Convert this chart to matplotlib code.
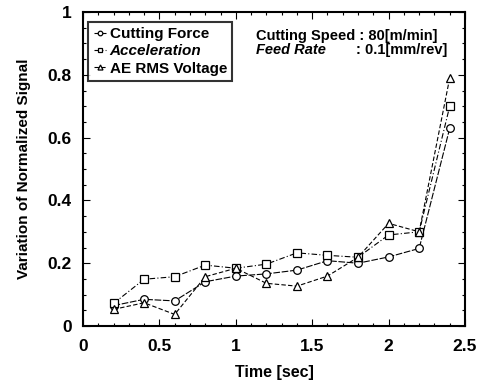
import matplotlib
matplotlib.use("Agg")
import matplotlib.pyplot as plt
from matplotlib.ticker import MultipleLocator

plt.rcParams['font.family'] = ['Liberation Sans', 'DejaVu Sans']

time = [0.2, 0.4, 0.6, 0.8, 1.0, 1.2, 1.4, 1.6, 1.8, 2.0, 2.2, 2.4]
cutting_force = [0.065, 0.085, 0.080, 0.141, 0.159, 0.166, 0.178, 0.208, 0.200, 0.220, 0.247, 0.63]
acceleration = [0.072, 0.149, 0.157, 0.194, 0.184, 0.197, 0.233, 0.225, 0.219, 0.290, 0.300, 0.70]
ae_rms = [0.053, 0.074, 0.037, 0.157, 0.184, 0.136, 0.127, 0.159, 0.219, 0.327, 0.300, 0.79]

fig = plt.figure(figsize=(4.86, 3.91), dpi=100)
ax = fig.add_axes([0.1708, 0.1662, 0.786, 0.8031])

kw = dict(color='black', lw=0.8, mfc='white', mec='black', mew=0.9)
l1, = ax.plot(time, cutting_force, marker='o', ms=5.5, ls=(0, (6, 1.5)), **kw)
l2, = ax.plot(time, acceleration, marker='s', ms=6, ls=(0, (5, 2, 1, 2)), **kw)
l3, = ax.plot(time, ae_rms, marker='^', ms=6, ls=(0, (4, 2)), **kw)

ax.set_xlim(0, 2.5)
ax.set_ylim(0, 1)
ax.xaxis.set_minor_locator(MultipleLocator(0.1))
ax.yaxis.set_minor_locator(MultipleLocator(0.05))
ax.set_xticks([0, 0.5, 1, 1.5, 2, 2.5])
ax.set_xticklabels(['0', '0.5', '1', '1.5', '2', '2.5'])
ax.set_yticks([0, 0.2, 0.4, 0.6, 0.8, 1])
ax.set_yticklabels(['0', '0.2', '0.4', '0.6', '0.8', '1'])
ax.tick_params(which='both', direction='in', top=True, right=True, width=0.8)
ax.tick_params(which='major', length=5, labelsize=12.5)
ax.tick_params(axis='x', which='major', pad=9)
ax.tick_params(axis='y', which='major', pad=8)
ax.tick_params(which='minor', length=2.5)
for lab in ax.get_xticklabels() + ax.get_yticklabels():
    lab.set_fontweight('bold')
for s in ax.spines.values():
    s.set_linewidth(1.5)

ax.set_xlabel('Time [sec]', fontsize=11.5, fontweight='bold', labelpad=8)
ax.set_ylabel('Variation of Normalized Signal', fontsize=11, fontweight='bold', labelpad=12)

leg = ax.legend([l1, l2, l3], ['Cutting Force', 'Acceleration', 'AE RMS Voltage'],
                loc='upper left', bbox_to_anchor=(0.0, 0.985), frameon=True, fancybox=False,
                edgecolor='black', fontsize=11, handlelength=0.8, handletextpad=0.25,
                borderpad=0.35, labelspacing=0.2, markerscale=0.6, borderaxespad=0.35)
leg.get_frame().set_linewidth(1.5)
texts = leg.get_texts()
for t in texts:
    t.set_fontweight('bold')
texts[1].set_fontstyle('italic')

ax.text(0.453, 0.925, 'Cutting Speed : 80[m/min]', transform=ax.transAxes,
        fontsize=10.5, fontweight='bold', va='center', ha='left')
ax.text(0.453, 0.88, 'Feed Rate', transform=ax.transAxes,
        fontsize=10.5, fontweight='bold', fontstyle='italic', va='center', ha='left')
ax.text(0.715, 0.88, ': 0.1[mm/rev]', transform=ax.transAxes,
        fontsize=10.5, fontweight='bold', va='center', ha='left')

fig.savefig('out.png', dpi=100)
